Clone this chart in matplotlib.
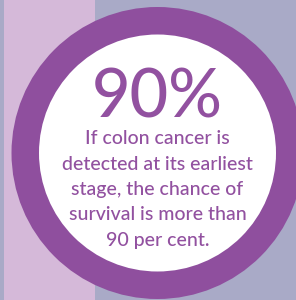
import matplotlib
matplotlib.use('Agg')
import matplotlib.pyplot as plt
from matplotlib.patches import Circle, Rectangle

# content
stat_value = 90
stat_label = '%d%%' % stat_value
message_lines = ['If colon cancer is',
                 'detected at its earliest',
                 'stage, the chance of',
                 'survival is more than',
                 '90 per cent.']

# colours
purple = '#8f4f9e'
text_purple = '#9251a0'
lilac = '#d5b9d9'
grey_lav = '#a9aac7'

W, H = 296, 300
fig = plt.figure(figsize=(W / 100, H / 100), dpi=100)
ax = fig.add_axes([0, 0, 1, 1])
ax.set_xlim(0, W)
ax.set_ylim(H, 0)
ax.axis('off')

# background panels
ax.add_patch(Rectangle((0, 0), W, H, color=grey_lav, lw=0))
ax.add_patch(Rectangle((4, 0), 91, H, color=lilac, lw=0))

# ring
cx, cy = 157.5, 153
ax.add_patch(Circle((cx, cy), 146, color=purple, lw=0))
ax.add_patch(Circle((cx, cy), 118.5, color='white', lw=0))

font = 'Lato'
ax.text(cx, 117, stat_label, ha='center', va='baseline', fontsize=48,
        color=text_purple, family=font, weight='medium')

y0, step = 144, 25.5
for i, line in enumerate(message_lines):
    ax.text(cx, y0 + i * step, line, ha='center', va='baseline',
            fontsize=14, color=text_purple, family=font, weight='medium')

fig.savefig('out.png', dpi=100)
